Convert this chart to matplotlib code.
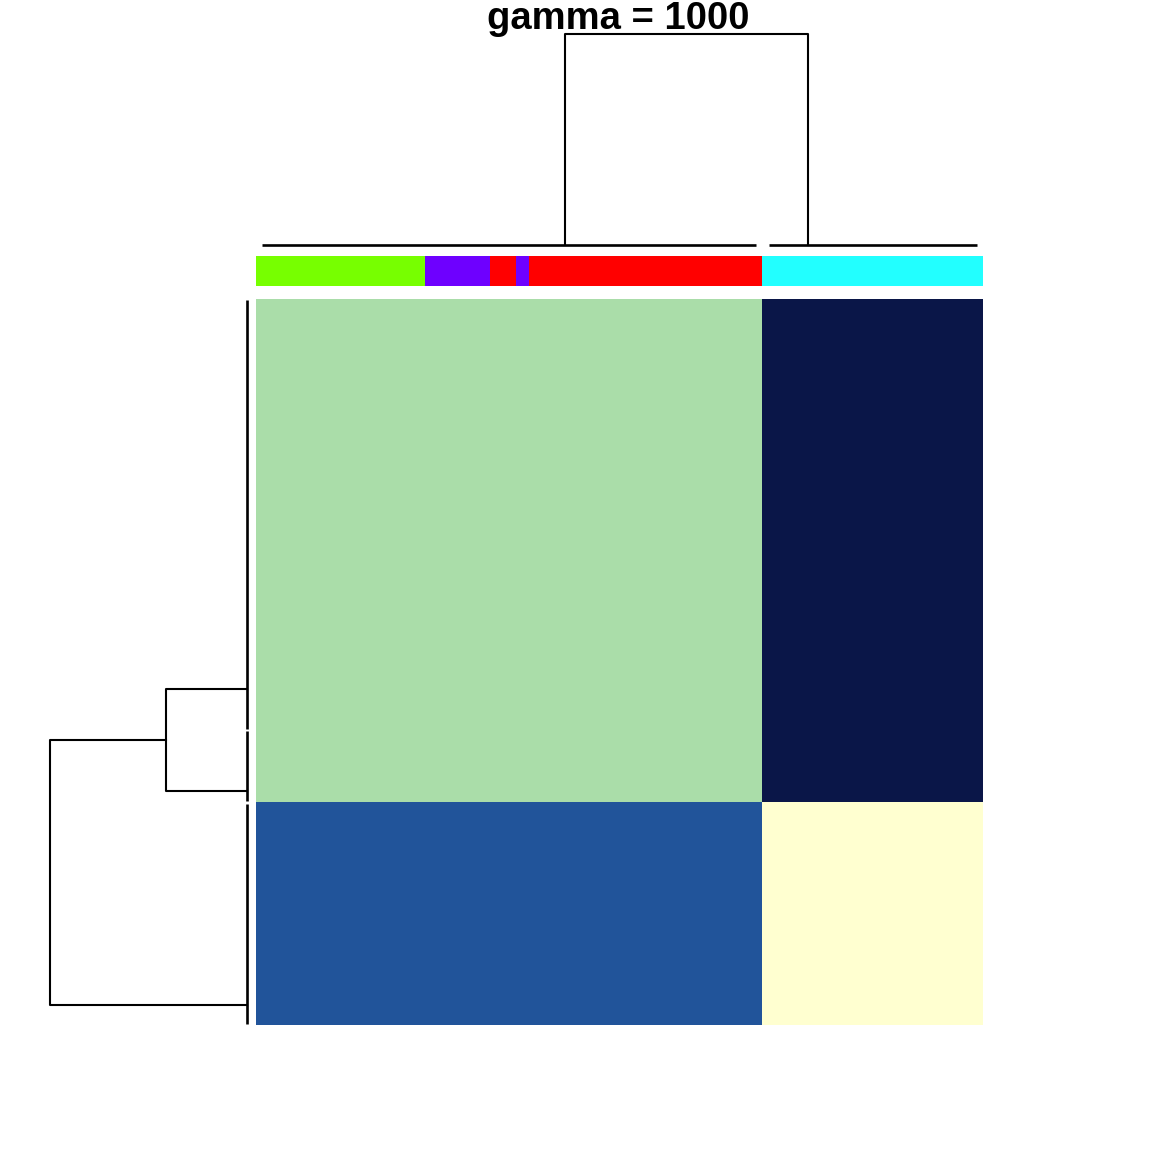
import numpy as np
import matplotlib
matplotlib.use("Agg")
import matplotlib.pyplot as plt
from matplotlib.colors import ListedColormap

########## DATA ############
title = "gamma = 1000"

# column side colours, as runs (colour, number of columns)
col_runs = [("#77FF00", 13), ("#6E00FF", 5), ("#FF0000", 2),
            ("#6E00FF", 1), ("#FF0000", 18), ("#22FFFF", 17)]

# column clusters (sizes) and row clusters (sizes)
col_cluster_sizes = [39, 17]
row_cluster_sizes = [178, 30, 92]       # A, B, C  (A+B form the upper block)
row_block_sizes = [208, 92]

# block values of heatmap: rows (upper, lower) x cols (left, right)
block_values = [[1, 3],
                [2, 0]]
heat_colors = ["#FFFFD0", "#AADDA9", "#21549A", "#0A1648"]

# column dendrogram: merge positions of the two clusters (leaf units), root height
col_merge_pos = [23.8, 42.5]
col_root_height = 1.0

# row dendrogram: merge positions of A, B, C (leaf units) and heights
row_merge_pos = [161.2, 203.3, 291.7]
row_ab_height = 0.41
row_root_height = 1.0

########## BUILD ############
n_cols = sum(n for _, n in col_runs)
n_rows = sum(row_cluster_sizes)

col_colors = []
for c, n in col_runs:
    col_colors += [c] * n

mat = np.zeros((n_rows, n_cols), dtype=int)
r0 = 0
for bi, rs in enumerate(row_block_sizes):
    c0 = 0
    for bj, cs in enumerate(col_cluster_sizes):
        mat[r0:r0 + rs, c0:c0 + cs] = block_values[bi][bj]
        c0 += cs
    r0 += rs

W = H = 1152
def box(x0, y0, x1, y1):
    return [x0 / W, 1 - y1 / H, (x1 - x0) / W, (y1 - y0) / H]

fig = plt.figure(figsize=(11.52, 11.52), dpi=100)
lw = 1.5

# heatmap
ax = fig.add_axes(box(256, 299, 983, 1025))
ax.imshow(mat, cmap=ListedColormap(heat_colors), vmin=-0.5, vmax=3.5,
          aspect="auto", interpolation="nearest",
          extent=(0, n_cols, n_rows, 0))
ax.set_axis_off()

# column side colours
axc = fig.add_axes(box(256, 256, 983, 286))
for i, c in enumerate(col_colors):
    axc.axvspan(i, i + 1, color=c, lw=0)
axc.set_xlim(0, n_cols)
axc.set_ylim(0, 1)
axc.set_axis_off()

# column dendrogram
axt = fig.add_axes(box(256, 34, 983, 245))
axt.set_xlim(0, n_cols)
axt.set_ylim(0, col_root_height)
start = 0
for size, mp in zip(col_cluster_sizes, col_merge_pos):
    axt.plot([start + 0.5, start + size - 0.5], [0, 0], color="black", lw=lw + 0.4,
             clip_on=False, solid_capstyle="butt")
    start += size
p1, p2 = col_merge_pos
axt.plot([p1, p1, p2, p2], [0, col_root_height, col_root_height, 0],
         color="black", lw=lw, clip_on=False)
axt.set_axis_off()

# row dendrogram
axl = fig.add_axes(box(50, 299, 247, 1025))
axl.set_ylim(n_rows, 0)
axl.set_xlim(row_root_height, 0)
start = 0
for size in row_cluster_sizes:
    axl.plot([0, 0], [start + 0.5, start + size - 0.5], color="black", lw=lw + 0.4,
             clip_on=False, solid_capstyle="butt")
    start += size
a, b, c = row_merge_pos
axl.plot([0, row_ab_height, row_ab_height, 0], [a, a, b, b],
         color="black", lw=lw, clip_on=False)
ab = (a + b) / 2
axl.plot([row_ab_height, row_root_height, row_root_height, 0], [ab, ab, c, c],
         color="black", lw=lw, clip_on=False)
axl.set_axis_off()

fig.text(618 / W, 1 - 19 / H, title, ha="center", va="center",
         fontsize=27.5, fontweight="bold", family="Liberation Sans")

fig.savefig("out.png", dpi=100)
